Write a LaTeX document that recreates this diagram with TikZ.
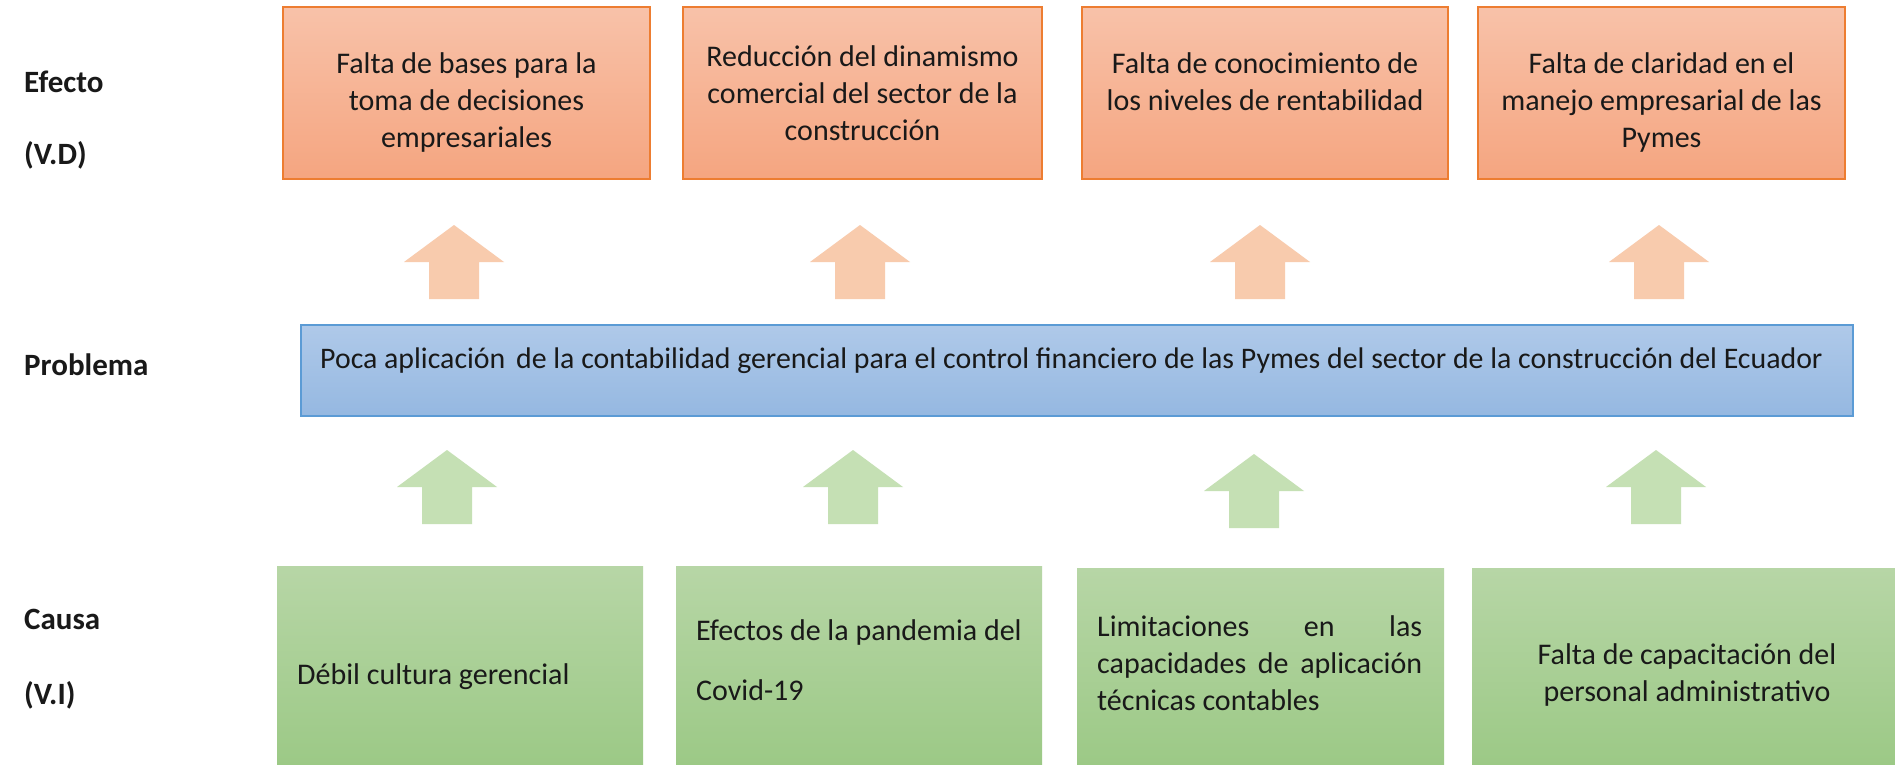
\documentclass[tikz,border=0pt]{standalone}
\usepackage{fontspec}
\setmainfont{Carlito}
\definecolor{orTop}{RGB}{248,194,169}
\definecolor{orBot}{RGB}{245,165,128}
\definecolor{orLine}{RGB}{237,125,49}
\definecolor{blTop}{RGB}{175,201,233}
\definecolor{blBot}{RGB}{149,184,225}
\definecolor{blLine}{RGB}{91,155,213}
\definecolor{grTop}{RGB}{183,214,166}
\definecolor{grBot}{RGB}{156,201,134}
\definecolor{orArrow}{RGB}{248,203,173}
\definecolor{grArrow}{RGB}{197,224,180}
\definecolor{txt}{RGB}{25,25,25}
\tikzset{
  boxbase/.style={rectangle, inner sep=0pt, outer sep=0pt, anchor=north west},
  effbox/.style={boxbase, draw=orLine, line width=1.6pt, top color=orTop, bottom color=orBot},
  probbox/.style={boxbase, draw=blLine, line width=1.6pt, top color=blTop, bottom color=blBot},
  causebox/.style={boxbase, top color=grTop, bottom color=grBot},
  bodytext/.style={inner sep=0pt, text=txt, font=\fontsize{30}{37}\selectfont},
  sidelabel/.style={inner sep=0pt, anchor=west, text=txt, font=\fontsize{31}{37}\selectfont\bfseries},
  blockup/.pic={\fill[pic actions] (0,0) -- (50,37) -- (25,37) -- (25,74) -- (-25,74) -- (-25,37) -- (-50,37) -- cycle;}
}
\begin{document}
\begin{tikzpicture}[x=1pt,y=-1pt]
\useasboundingbox (0,0) rectangle (1895,765);
\fill[white] (0,0) rectangle (1895,765);

% side labels
\node[sidelabel] (lEfecto) at (24,82) {Efecto};
\node[sidelabel] (lVD) at (24,155) {(V.D)};
\node[sidelabel] (lProblema) at (24,365) {Problema};
\node[sidelabel] (lCausa) at (24,619) {Causa};
\node[sidelabel] (lVI) at (24,695) {(V.I)};

% effect boxes
\node[effbox, minimum width=367pt, minimum height=172pt] (e1) at (283,7) {};
\node[effbox, minimum width=359pt, minimum height=172pt] (e2) at (683,7) {};
\node[effbox, minimum width=366pt, minimum height=172pt] (e3) at (1082,7) {};
\node[effbox, minimum width=367pt, minimum height=172pt] (e4) at (1478,7) {};

\node[bodytext, anchor=north, align=center] (e1t) at ([yshift=-45pt]e1.north) {Falta de bases para la\\toma de decisiones\\empresariales};
\node[bodytext, anchor=north, align=center] (e2t) at ([yshift=-38pt]e2.north) {Reducción del dinamismo\\comercial del sector de la\\construcción};
\node[bodytext, anchor=north, align=center] (e3t) at ([yshift=-45pt]e3.north) {Falta de conocimiento de\\los niveles de rentabilidad};
\node[bodytext, anchor=north, align=center] (e4t) at ([yshift=-45pt]e4.north) {Falta de claridad en el\\manejo empresarial de las\\Pymes};

% orange block arrows
\pic[fill=orArrow] at (454,225) {blockup};
\pic[fill=orArrow] at (860,225) {blockup};
\pic[fill=orArrow] at (1260,225) {blockup};
\pic[fill=orArrow] at (1659,225) {blockup};

% problem box
\node[probbox, minimum width=1552pt, minimum height=91pt] (p) at (301,325) {};
\node[bodytext, anchor=west, font=\fontsize{29.85}{37}\selectfont] (pt) at (320,361) {Poca aplicación\hspace{4pt} de la contabilidad gerencial para el control financiero de las Pymes del sector de la construcción del Ecuador};

% green block arrows
\pic[fill=grArrow] at (447,450) {blockup};
\pic[fill=grArrow] at (853,450) {blockup};
\pic[fill=grArrow] at (1254,454) {blockup};
\pic[fill=grArrow] at (1656,450) {blockup};

% cause boxes
\node[causebox, minimum width=366pt, minimum height=199pt] (c1) at (277,566) {};
\node[causebox, minimum width=366pt, minimum height=199pt] (c2) at (676,566) {};
\node[causebox, minimum width=367pt, minimum height=197pt] (c3) at (1077,568) {};
\node[causebox, minimum width=423pt, minimum height=197pt] (c4) at (1472,568) {};

\node[bodytext, anchor=west] (c1t) at (297,677) {Débil cultura gerencial};
\node[bodytext, anchor=north west, align=left] (c2t) at (696,619) {Efectos de la pandemia del\\[23pt]Covid-19};
\node[bodytext, anchor=north west, text width=325pt, align=justify] (c3t) at (1097,615) {Limitaciones en las\linebreak capacidades de aplicación\linebreak técnicas contables};
\node[bodytext, anchor=north, align=center] (c4t) at (1687,643) {Falta de capacitación del\\personal administrativo};
\end{tikzpicture}
\end{document}
